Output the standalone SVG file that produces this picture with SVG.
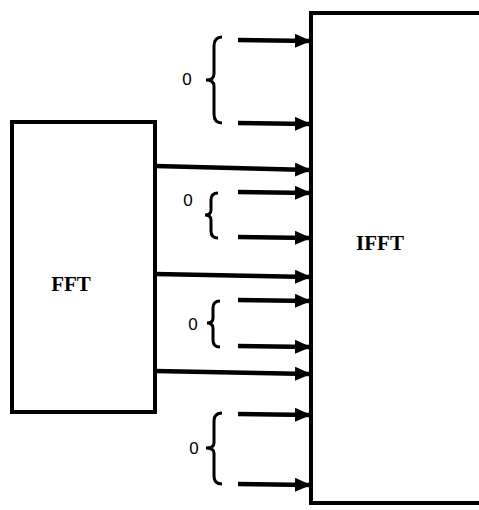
<svg xmlns="http://www.w3.org/2000/svg" width="479" height="510" viewBox="0 0 479 510">
<style>
.box{fill:#fff;stroke:#000;stroke-width:4}
.lbl{font-family:"Liberation Serif","Times New Roman",serif;font-weight:bold;font-size:21px;fill:#000;text-anchor:middle}
.zero{font-family:"Liberation Sans Narrow","Liberation Sans",Arial,sans-serif;font-size:17px;fill:#000;text-anchor:middle}
.ar{stroke:#000;stroke-width:4.5;fill:none;marker-end:url(#ah)}
.br{stroke:#000;stroke-width:3;fill:none}
</style>
<defs>
<marker id="ah" markerWidth="16" markerHeight="14" refX="15" refY="7" orient="auto" markerUnits="userSpaceOnUse">
<path d="M0,0 L16,7 L0,14 z" fill="#000"/>
</marker>
</defs>
<rect width="479" height="510" fill="#fff"/>
<g id="fft">
<rect class="box" x="12" y="122" width="143" height="290"/>
<text class="lbl" x="71" y="291">FFT</text>
</g>
<g id="ifft">
<rect class="box" x="311" y="13" width="200" height="490"/>
<text class="lbl" x="380" y="250">IFFT</text>
</g>
<g id="zeros">
<path class="br" d="M222,37 Q214,37 214,46 L214,74 Q214,80 206,80 Q214,80 214,86 L214,114 Q214,123 222,123"/>
<text class="zero" x="187" y="85">0</text>
<path class="br" d="M218,193 Q211,193 211,200 L211,210 Q211,215 205,215 Q211,215 211,220 L211,231 Q211,238 218,238"/>
<text class="zero" x="188" y="206">0</text>
<path class="br" d="M220,301 Q213,301 213,308 L213,318 Q213,323 207,323 Q213,323 213,328 L213,340 Q213,347 220,347"/>
<text class="zero" x="193" y="330">0</text>
<path class="br" d="M222,413 Q214,413 214,421 L214,443 Q214,448 206,448 Q214,448 214,453 L214,476 Q214,484 222,484"/>
<text class="zero" x="194" y="454">0</text>
</g>
<g id="connectors">
<line class="ar" x1="238" y1="40" x2="310" y2="41"/>
<line class="ar" x1="238" y1="123" x2="310" y2="124"/>
<line class="ar" x1="155" y1="166" x2="310" y2="170"/>
<line class="ar" x1="238" y1="192" x2="310" y2="193"/>
<line class="ar" x1="238" y1="237" x2="310" y2="238"/>
<line class="ar" x1="155" y1="274" x2="310" y2="277"/>
<line class="ar" x1="238" y1="300" x2="310" y2="301"/>
<line class="ar" x1="238" y1="346" x2="310" y2="347"/>
<line class="ar" x1="155" y1="371" x2="310" y2="374"/>
<line class="ar" x1="238" y1="414" x2="310" y2="415"/>
<line class="ar" x1="238" y1="484" x2="310" y2="485"/>
</g>
</svg>
